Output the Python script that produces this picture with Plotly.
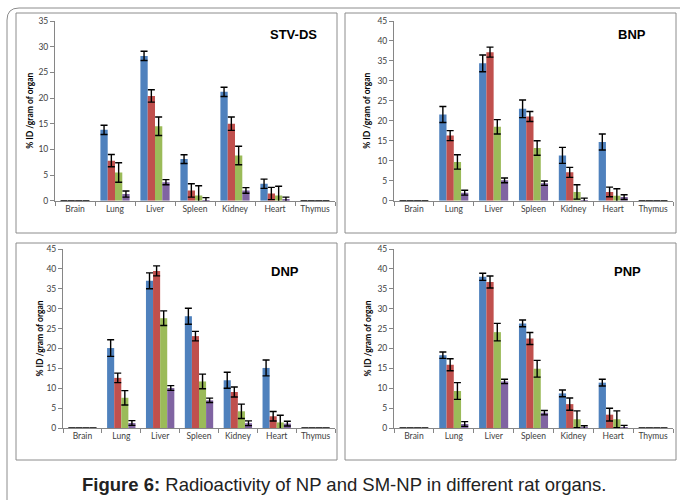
import plotly.graph_objects as go

organs = ["Brain", "Lung", "Liver", "Spleen", "Kidney", "Heart", "Thymus"]
series_colors = ["#4F81BD", "#C0504D", "#9BBB59", "#8064A2"]

# STV-DS panel: 4 series (values, errors)
stv_s1 = [0, 13.8, 28.2, 8.1, 21.2, 3.3, 0]
stv_s2 = [0, 7.8, 20.4, 2.0, 15.0, 1.4, 0]
stv_s3 = [0, 5.5, 14.5, 1.0, 8.8, 1.0, 0]
stv_s4 = [0, 1.3, 3.6, 0.1, 2.0, 0.2, 0]
stv_e1 = [0, 0.9, 0.9, 0.85, 0.9, 0.9, 0]
stv_e2 = [0, 1.2, 1.2, 1.3, 1.3, 1.2, 0]
stv_e3 = [0, 1.9, 1.8, 1.9, 1.8, 1.8, 0]
stv_e4 = [0, 0.6, 0.5, 0.5, 0.55, 0.5, 0]

# BNP panel
bnp_s1 = [0, 21.6, 34.4, 23.0, 11.35, 14.7, 0]
bnp_s2 = [0, 16.3, 37.2, 21.1, 7.1, 2.2, 0]
bnp_s3 = [0, 9.7, 18.5, 13.2, 2.2, 1.25, 0]
bnp_s4 = [0, 2.0, 5.1, 4.4, 0.15, 0.9, 0]
bnp_e1 = [0, 2.0, 2.1, 2.2, 2.0, 2.0, 0]
bnp_e2 = [0, 1.25, 1.25, 1.25, 1.25, 1.2, 0]
bnp_e3 = [0, 1.8, 1.8, 1.8, 1.8, 1.75, 0]
bnp_e4 = [0, 0.6, 0.6, 0.55, 0.5, 0.6, 0]

# DNP panel
dnp_s1 = [0, 20.1, 37.0, 28.1, 12.0, 15.1, 0]
dnp_s2 = [0, 12.6, 39.5, 23.1, 9.05, 2.95, 0]
dnp_s3 = [0, 7.6, 27.6, 11.7, 4.2, 1.4, 0]
dnp_s4 = [0, 1.25, 10.05, 6.95, 1.2, 1.1, 0]
dnp_e1 = [0, 2.1, 2.0, 2.0, 2.0, 2.0, 0]
dnp_e2 = [0, 1.2, 1.25, 1.2, 1.25, 1.2, 0]
dnp_e3 = [0, 1.8, 1.85, 1.85, 1.8, 1.8, 0]
dnp_e4 = [0, 0.6, 0.6, 0.55, 0.6, 0.6, 0]

# PNP panel
pnp_s1 = [0, 18.3, 38.0, 26.3, 8.7, 11.4, 0]
pnp_s2 = [0, 15.9, 36.7, 22.5, 6.0, 3.35, 0]
pnp_s3 = [0, 9.3, 24.1, 14.9, 2.2, 2.2, 0]
pnp_s4 = [0, 1.0, 11.7, 3.85, 0.05, 0.15, 0]
pnp_e1 = [0, 0.8, 0.9, 0.85, 0.85, 0.85, 0]
pnp_e2 = [0, 1.5, 1.5, 1.5, 1.55, 1.6, 0]
pnp_e3 = [0, 2.1, 2.2, 2.1, 2.1, 2.1, 0]
pnp_e4 = [0, 0.6, 0.55, 0.55, 0.5, 0.5, 0]

panel_titles = ["STV-DS", "BNP", "DNP", "PNP"]
y_max = [35, 45, 45, 45]
y_title = "% ID /gram of organ"

panels = [
    ([stv_s1, stv_s2, stv_s3, stv_s4], [stv_e1, stv_e2, stv_e3, stv_e4]),
    ([bnp_s1, bnp_s2, bnp_s3, bnp_s4], [bnp_e1, bnp_e2, bnp_e3, bnp_e4]),
    ([dnp_s1, dnp_s2, dnp_s3, dnp_s4], [dnp_e1, dnp_e2, dnp_e3, dnp_e4]),
    ([pnp_s1, pnp_s2, pnp_s3, pnp_s4], [pnp_e1, pnp_e2, pnp_e3, pnp_e4]),
]

W, H = 680, 500

def fx(px):
    return px / W

def fy(py):
    return (H - py) / H

# plot-area pixel boxes: (x0, x1, y_top, y_bottom)
plot_boxes = [
    (55, 335, 21, 200.7),
    (394, 673, 21, 200.7),
    (63, 335, 249, 428),
    (394, 673, 249, 428),
]
# panel frames (x0, y0, x1, y1)
frames = [
    (16, 13, 337, 233),
    (345, 13, 676, 233),
    (16, 243, 337, 460),
    (345, 243, 676, 460),
]
title_pos = [(293, 35), (632, 35), (285, 271), (627, 271)]
ytitle_x = [30, 367, 39, 367]

fig = go.Figure()
layout_axes = {}
annotations = []
shapes = []

tick_font = dict(family="Lato, Liberation Sans, sans-serif", size=8.5, color="#404040")

for i, ((vals, errs), box) in enumerate(zip(panels, plot_boxes)):
    n = "" if i == 0 else str(i + 1)
    xa, ya = "x" + n, "y" + n
    for s in range(4):
        fig.add_trace(go.Bar(
            x=organs, y=vals[s], xaxis=xa, yaxis=ya,
            marker=dict(color=series_colors[s], line=dict(width=0)),
            error_y=dict(type="data", array=errs[s], visible=True,
                         color="#000000", thickness=1.4, width=3.5),
            showlegend=False, offsetgroup=str(s),
        ))
    x0, x1, yt, yb = box
    layout_axes["xaxis" + n] = dict(
        domain=[fx(x0), fx(x1)], anchor=ya, type="category", automargin=False,
        showline=True, linecolor="#868686", linewidth=1,
        ticks="outside", tickson="boundaries", ticklen=4, tickcolor="#868686",
        tickfont=tick_font, showgrid=False, zeroline=False, fixedrange=True,
    )
    layout_axes["yaxis" + n] = dict(
        domain=[fy(yb), fy(yt)], anchor=xa, range=[0, y_max[i]], dtick=5, automargin=False,
        showline=True, linecolor="#868686", linewidth=1,
        ticks="outside", ticklen=4, tickcolor="#868686",
        tickfont=tick_font, showgrid=False, zeroline=False, fixedrange=True,
    )
    fx0, fy0, fx1, fy1 = frames[i]
    shapes.append(dict(type="rect", xref="paper", yref="paper",
                       x0=fx(fx0), x1=fx(fx1), y0=fy(fy1), y1=fy(fy0),
                       line=dict(color="#8c8c8c", width=1)))
    tx, ty = title_pos[i]
    annotations.append(dict(text="<b>" + panel_titles[i] + "</b>", x=fx(tx), y=fy(ty),
                            xref="paper", yref="paper", showarrow=False,
                            xanchor="center", yanchor="middle",
                            font=dict(family="Liberation Sans, Arial, sans-serif", size=13, color="#000000")))
    annotations.append(dict(text="<b>" + y_title + "</b>", x=fx(ytitle_x[i]), y=fy((yt + yb) / 2),
                            xref="paper", yref="paper", showarrow=False, textangle=-90,
                            xanchor="center", yanchor="middle",
                            font=dict(family="Lato, Liberation Sans, sans-serif", size=8.5, color="#000000")))

# outer frame with rounded top-left corner
shapes.append(dict(type="path", xref="paper", yref="paper",
                   path=f"M {fx(7)},{fy(500)} L {fx(7)},{fy(20)} Q {fx(7)},{fy(8)} {fx(19)},{fy(8)} L {fx(680)},{fy(8)}",
                   line=dict(color="#8c8c8c", width=1)))

annotations.append(dict(
    text="<b>Figure 6:</b> Radioactivity of NP and SM-NP in different rat organs.",
    x=fx(344), y=fy(484), xref="paper", yref="paper", showarrow=False,
    xanchor="center", yanchor="middle",
    font=dict(family="Liberation Sans, Arial, sans-serif", size=18.5, color="#222222")))

fig.update_layout(
    width=W, height=H, margin=dict(l=0, r=0, t=0, b=0),
    paper_bgcolor="white", plot_bgcolor="white",
    barmode="group", bargap=0.27, bargroupgap=0,
    annotations=annotations, shapes=shapes, **layout_axes,
)

fig.write_html("out.html", config={"displayModeBar": False},
               post_script="document.body.style.margin='0px';document.body.style.overflow='hidden';")
